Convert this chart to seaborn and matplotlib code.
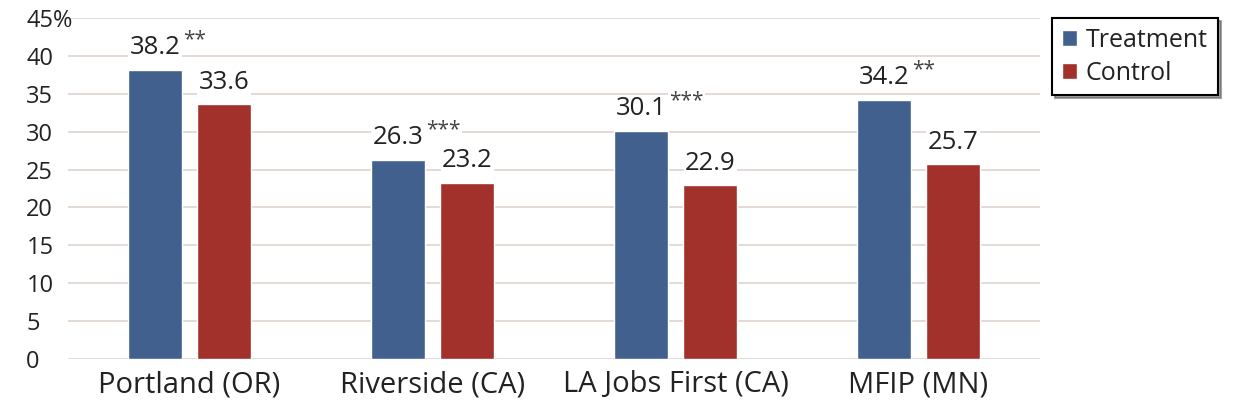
import pandas as pd
import seaborn as sns
import matplotlib.pyplot as plt

# values
programs = ['Portland (OR)', 'Riverside (CA)', 'LA Jobs First (CA)', 'MFIP (MN)']
treatment = [38.2, 26.3, 30.1, 34.2]
control = [33.6, 23.2, 22.9, 25.7]
treatment_stars = ['**', '***', '***', '**']
control_stars = ['', '', '', '']
groups = ['Treatment', 'Control']
y_ticks = [0, 5, 10, 15, 20, 25, 30, 35, 40, 45]
y_ticklabels = ['0', '5', '10', '15', '20', '25', '30', '35', '40', '45%']

df = pd.DataFrame({
    'Program': programs * 2,
    'Group': [groups[0]] * 4 + [groups[1]] * 4,
    'Value': treatment + control,
})

sns.set_style('white')
plt.rcParams['font.family'] = ['Open Sans', 'DejaVu Sans']

fig = plt.figure(figsize=(12.41, 4.15), dpi=100)
ax = fig.add_axes([68 / 1241, 56 / 415, 972 / 1241, 341 / 415])

palette = {'Treatment': '#41608d', 'Control': '#a2302b'}
sns.barplot(data=df, x='Program', y='Value', hue='Group', order=programs,
            hue_order=groups, palette=palette, width=0.57, gap=0.22,
            saturation=1, ax=ax, legend=True, zorder=3)

ax.set_xlim(-0.5, 3.5)
ax.set_ylim(0, 45)
ax.set_yticks(y_ticks)
ax.set_yticklabels(y_ticklabels, fontsize=17, color='#222222')
ax.tick_params(axis='x', labelsize=21, colors='#222222', pad=8, length=0)
ax.tick_params(axis='y', length=0, pad=30)
for lab in ax.get_yticklabels():
    lab.set_horizontalalignment('left')
ax.set_xlabel('')
ax.set_ylabel('')
ax.yaxis.grid(True, color='#e2d8d2', linewidth=1.3, zorder=0)
ax.set_axisbelow(True)
for s in ax.spines.values():
    s.set_visible(False)

# value labels
for cont, vals, stars in zip(ax.containers, [treatment, control], [treatment_stars, control_stars]):
    for bar, v, st in zip(cont, vals, stars):
        ax.annotate(f'{v:.1f}', xy=(bar.get_x() + bar.get_width() / 2, v),
                    xytext=(0, 7), textcoords='offset points',
                    ha='center', va='bottom', fontsize=18.5, color='#222222', zorder=5,
                    bbox=dict(facecolor='white', edgecolor='none', pad=1))
        if st:
            ax.annotate(st, xy=(bar.get_x() + bar.get_width(), v),
                        xytext=(1, 14), textcoords='offset points',
                        ha='left', va='bottom', fontsize=15, color='#444444', zorder=5,
                        bbox=dict(facecolor='white', edgecolor='none', pad=1))

ax.legend_.remove()
leg = fig.legend(*ax.get_legend_handles_labels(), loc='upper left',
                 bbox_to_anchor=(1052 / 1241, 1 - 18 / 415), borderaxespad=0,
                 fontsize=18, frameon=True, shadow=True, fancybox=False, handlelength=0.6,
                 handleheight=0.6, handletextpad=0.35, borderpad=0.4, labelspacing=0.3)
leg.get_frame().set_edgecolor('black')
leg.get_frame().set_linewidth(1.5)
for t in leg.get_texts():
    t.set_color('#222222')

fig.savefig('out.png', dpi=100)
